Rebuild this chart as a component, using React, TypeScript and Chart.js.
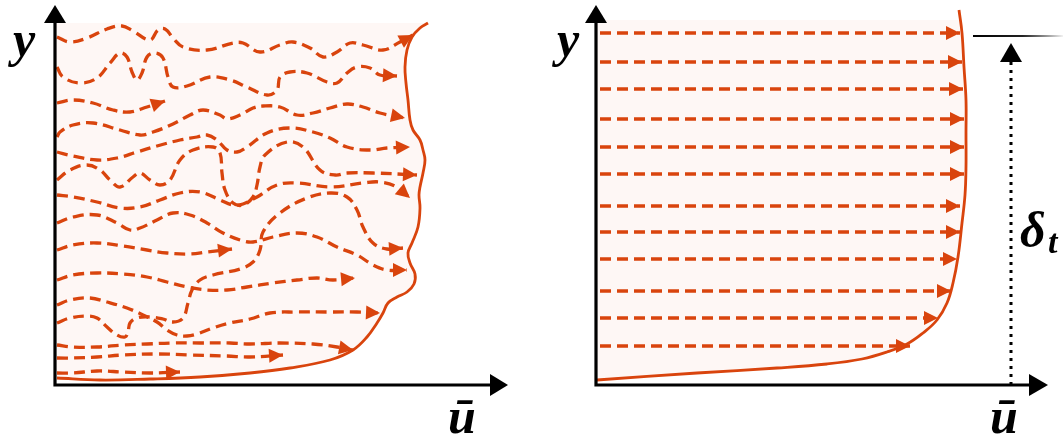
import React, { useEffect, useRef } from 'react';
import { Chart, registerables } from 'chart.js';

Chart.register(...registerables);

const ORANGE = '#d9440d';
const PINK = '#fef7f5';
const INK = '#000000';

// ---------------- Left panel: turbulent flow (u, y) ----------------
const turbProfile: number[][] = [
  [2, 7], [45, 5], [95, 6], [145, 8], [195, 12], [235, 17], [275, 25], [298, 35], [312, 48],
  [322, 62], [328, 72], [333, 82], [342, 88], [352, 93], [359, 101], [360, 111], [355, 122],
  [353, 132], [357, 142], [363, 158], [365, 177], [364, 190], [365, 198], [368, 212], [370, 225],
  [368, 235], [365, 245], [358, 255], [355, 265], [353, 285], [351, 302], [350, 318], [352, 335],
  [357, 348], [365, 357], [373, 362],
];
const streak01: number[][] = [
  [2, 348], [15, 343], [32, 347], [52, 356], [67, 359], [78, 354], [95, 345], [103, 355], [110, 356],
  [118, 347], [128, 338], [152, 335], [178, 342], [188, 342], [205, 333], [225, 340], [238, 343],
  [255, 337], [268, 328], [282, 333], [295, 342], [308, 340], [328, 335], [345, 343], [358, 350],
];
const streak02: number[][] = [
  [2, 318], [8, 308], [25, 302], [42, 307], [55, 322], [65, 332], [72, 328], [77, 313], [82, 305],
  [87, 312], [92, 328], [100, 332], [108, 327], [113, 308], [118, 298], [132, 299], [155, 308],
  [175, 305], [192, 298], [212, 290], [222, 295], [225, 308], [235, 313], [252, 312], [272, 303],
  [282, 302], [292, 312], [302, 318], [315, 317], [325, 310], [342, 309],
];
const streak03: number[][] = [
  [2, 282], [18, 285], [38, 282], [58, 275], [75, 273], [92, 278], [110, 284],
];
const streak04: number[][] = [
  [2, 248], [5, 253], [18, 260], [38, 262], [65, 255], [85, 250], [98, 253], [118, 261], [135, 270],
  [148, 275], [165, 270], [172, 266], [185, 270], [198, 277], [208, 279], [225, 278], [242, 270],
  [258, 272], [275, 277], [292, 281], [308, 278], [325, 272], [350, 267],
];
const streak05: number[][] = [
  [2, 233], [18, 229], [42, 225], [62, 227], [82, 233], [102, 239], [125, 245], [142, 248],
  [152, 250], [162, 245], [172, 235], [182, 233], [192, 238], [212, 252], [235, 257], [258, 253],
  [275, 247], [292, 238], [315, 235], [332, 237], [355, 238],
];
const streak06: number[][] = [
  [2, 205], [15, 215], [32, 220], [45, 215], [55, 205], [65, 198], [78, 208], [85, 212], [95, 205],
  [105, 200], [115, 205], [125, 225], [138, 235], [158, 238], [165, 232], [167, 212], [170, 195],
  [178, 182], [188, 180], [198, 188], [202, 200], [205, 218], [210, 230], [232, 243], [248, 238],
  [265, 215], [280, 210], [292, 212], [318, 212], [362, 210],
];
const streak07: number[][] = [
  [2, 190], [18, 188], [42, 183], [65, 177], [85, 178], [105, 185], [125, 192], [145, 193],
  [165, 185], [178, 180], [188, 181], [202, 188], [222, 200], [242, 202], [275, 198], [308, 202],
  [325, 203], [342, 198], [355, 187],
];
const streak08: number[][] = [
  [2, 162], [18, 168], [42, 170], [62, 162], [75, 155], [85, 157], [102, 165], [118, 172],
  [135, 170], [152, 162], [168, 152], [185, 145], [198, 143], [218, 148], [242, 152], [262, 148],
  [282, 138], [302, 130], [318, 120], [332, 115], [352, 115],
];
const streak09: number[][] = [
  [2, 135], [18, 140], [42, 142], [68, 139], [92, 135], [112, 132], [135, 131], [152, 133], [177, 136],
];
const streak10: number[][] = [
  [2, 105], [18, 110], [42, 112], [68, 111], [92, 108], [112, 103], [132, 98], [152, 95], [172, 95],
  [192, 98], [218, 102], [242, 105], [262, 107], [278, 105], [300, 107],
];
const streak11: number[][] = [
  [2, 80], [15, 85], [35, 87], [52, 83], [72, 77], [88, 70], [102, 63], [112, 55], [122, 50],
  [132, 49], [142, 51], [158, 57], [175, 62], [195, 66], [215, 72], [242, 73], [275, 73], [302, 73],
  [325, 72],
];
const streak12: number[][] = [
  [2, 62], [15, 67], [32, 69], [42, 67], [52, 58], [62, 50], [70, 48], [73, 53], [75, 62], [82, 67],
  [95, 68], [108, 66], [118, 63], [128, 67], [133, 82], [137, 95], [145, 105], [158, 110], [185, 116],
  [198, 123], [205, 135], [208, 153], [225, 172], [252, 187], [275, 192], [292, 188], [302, 175],
  [308, 158], [318, 142], [332, 136], [348, 137],
];
const streak13: number[][] = [
  [2, 40], [18, 38], [42, 38], [68, 40], [92, 41], [118, 42], [145, 42], [175, 42], [195, 41],
  [225, 42], [258, 41], [282, 38], [298, 35],
];
const streak14: number[][] = [
  [2, 27], [18, 27], [42, 28], [68, 30], [102, 31], [135, 30], [172, 29], [195, 28], [228, 30],
];
const streak15: number[][] = [
  [2, 12], [18, 12], [42, 14], [68, 13], [95, 12], [125, 13],
];
const turbStreaks = [
  streak01, streak02, streak03, streak04, streak05, streak06, streak07, streak08,
  streak09, streak10, streak11, streak12, streak13, streak14, streak15,
];

// ---------------- Right panel: mean flow (u, y) ----------------
const lamProfile: number[][] = [
  [1, 5], [101, 12], [181, 17], [231, 21], [266, 26], [291, 33], [311, 41], [327, 52], [341, 65],
  [351, 82], [357, 102], [362, 128], [366, 162], [369, 190], [370, 218], [370, 252], [370, 285],
  [368, 318], [366, 352], [363, 375],
];
const lamRowY = [352, 323, 296, 266, 238, 211, 179, 153, 126, 94, 67, 39];
const lamRowEnd = [364, 366, 367, 368, 368, 368, 364, 364, 361, 355, 342, 314];
const lamRowStart = 4;

// annotation values (data units of the right panel)
const deltaX = 415;
const deltaTopY = 349;
const deltaArrowTip = 342;

const toXY = (arr: number[][]) => arr.map(([x, y]) => ({ x, y }));

function arrowHead(ctx: CanvasRenderingContext2D, tx: number, ty: number, fx: number, fy: number, len: number, half: number, color: string) {
  const a = Math.atan2(ty - fy, tx - fx);
  ctx.save();
  ctx.translate(tx, ty);
  ctx.rotate(a);
  ctx.beginPath();
  ctx.moveTo(0, 0);
  ctx.lineTo(-len, -half);
  ctx.lineTo(-len, half);
  ctx.closePath();
  ctx.fillStyle = color;
  ctx.fill();
  ctx.restore();
}

const schematicPlugin = {
  id: 'schematic',
  beforeDatasetsDraw(chart: any, _args: any, opts: any) {
    const { ctx, chartArea } = chart;
    const xs = chart.scales.x;
    const ys = chart.scales.y;
    chart.data.datasets.forEach((d: any, i: number) => {
      if (!d.profile) return;
      const meta = chart.getDatasetMeta(i);
      if (meta.dataset && meta.dataset.updateControlPoints) meta.dataset.updateControlPoints(chartArea, 'x');
      const pts = meta.data;
      const x0 = xs.getPixelForValue(0);
      const y0 = ys.getPixelForValue(0);
      const top = ys.getPixelForValue(opts.fillTop);
      ctx.save();
      ctx.beginPath();
      ctx.rect(x0, top, chartArea.right - x0, y0 - top);
      ctx.clip();
      ctx.beginPath();
      ctx.moveTo(x0, y0);
      ctx.lineTo(pts[0].x, pts[0].y);
      for (let k = 1; k < pts.length; k++) {
        const p = pts[k - 1];
        const q = pts[k];
        if (p.cp2x !== undefined && q.cp1x !== undefined) ctx.bezierCurveTo(p.cp2x, p.cp2y, q.cp1x, q.cp1y, q.x, q.y);
        else ctx.lineTo(q.x, q.y);
      }
      ctx.lineTo(x0, pts[pts.length - 1].y);
      ctx.closePath();
      ctx.fillStyle = PINK;
      ctx.fill();
      ctx.restore();
    });
  },
  afterDatasetsDraw(chart: any, _args: any, opts: any) {
    const { ctx } = chart;
    const xs = chart.scales.x;
    const ys = chart.scales.y;
    const px = (v: number) => xs.getPixelForValue(v);
    const py = (v: number) => ys.getPixelForValue(v);

    // arrow heads at the end of each streamline
    chart.data.datasets.forEach((d: any, i: number) => {
      if (!d.arrow) return;
      const pts = chart.getDatasetMeta(i).data;
      const n = pts.length;
      arrowHead(ctx, pts[n - 1].x, pts[n - 1].y, pts[n - 2].x, pts[n - 2].y, 14, 7, ORANGE);
    });

    // axes
    const x0 = px(0);
    const y0 = py(0);
    ctx.save();
    ctx.strokeStyle = INK;
    ctx.lineWidth = 3.2;
    ctx.beginPath();
    ctx.moveTo(x0, y0 + 1.6);
    ctx.lineTo(x0, py(opts.yArrowBase));
    ctx.moveTo(x0 - 1.6, y0);
    ctx.lineTo(px(opts.xArrowBase), y0);
    ctx.stroke();
    arrowHead(ctx, x0, py(opts.yArrowTip), x0, y0, py(opts.yArrowBase) - py(opts.yArrowTip), 11, INK);
    arrowHead(ctx, px(opts.xArrowTip), y0, x0, y0, px(opts.xArrowTip) - px(opts.xArrowBase), 11, INK);

    // labels
    ctx.fillStyle = INK;
    ctx.textBaseline = 'alphabetic';
    (opts.labels || []).forEach((l: any) => {
      ctx.font = `italic bold ${l.size}px "Liberation Serif", "DejaVu Serif", serif`;
      ctx.textAlign = l.align;
      ctx.fillText(l.text, px(l.u), py(l.y));
    });

    // boundary-layer thickness annotation
    if (opts.delta) {
      const dx = px(deltaX);
      const lineY = py(deltaTopY);
      const x1 = px(377);
      const x2 = px(467);
      const g = ctx.createLinearGradient(x1, 0, x2, 0);
      g.addColorStop(0, '#000000');
      g.addColorStop(0.55, '#222222');
      g.addColorStop(1, 'rgba(0,0,0,0.05)');
      ctx.strokeStyle = g;
      ctx.lineWidth = 2;
      ctx.beginPath();
      ctx.moveTo(x1, lineY);
      ctx.lineTo(x2, lineY);
      ctx.stroke();

      const base = py(deltaArrowTip) + 19;
      ctx.strokeStyle = INK;
      ctx.lineWidth = 3;
      ctx.setLineDash([3, 5]);
      ctx.beginPath();
      ctx.moveTo(dx, y0);
      ctx.lineTo(dx, base);
      ctx.stroke();
      ctx.setLineDash([]);
      arrowHead(ctx, dx, py(deltaArrowTip), dx, y0, 19, 11, INK);
    }
    ctx.restore();
  },
};

function makeConfig(profile: number[][], lines: number[][][], tension: number, xMax: number, padding: any, schematic: any): any {
  return {
    type: 'line',
    data: {
      datasets: [
        { data: toXY(profile), borderColor: ORANGE, borderWidth: 2.8, tension: 0.4, pointRadius: 0, fill: false, profile: true },
        ...lines.map((s) => ({
          data: toXY(s), borderColor: ORANGE, borderWidth: 3.3, borderDash: [11, 6], tension,
          pointRadius: 0, fill: false, arrow: true,
        })),
      ],
    },
    options: {
      animation: false,
      responsive: false,
      events: [],
      layout: { padding },
      scales: {
        x: { type: 'linear', display: false, min: 0, max: xMax },
        y: { type: 'linear', display: false, min: 0, max: 380 },
      },
      plugins: { legend: { display: false }, tooltip: { enabled: false }, schematic },
    },
    plugins: [schematicPlugin],
  };
}

export default function App() {
  const leftRef = useRef<HTMLCanvasElement>(null);
  const rightRef = useRef<HTMLCanvasElement>(null);

  useEffect(() => {
    const lamLines = lamRowY.map((y, i) => [[lamRowStart, y], [lamRowEnd[i], y]]);
    const left = new Chart(leftRef.current as HTMLCanvasElement, makeConfig(
      turbProfile, turbStreaks, 0.4, 453,
      { left: 55, right: 22, top: 5, bottom: 53 },
      {
        fillTop: 362, yArrowBase: 362, yArrowTip: 380, xArrowBase: 435, xArrowTip: 453,
        labels: [
          { text: 'y', u: -42, y: 329, size: 50, align: 'left' },
          { text: 'ū', u: 407, y: -48, size: 50, align: 'center' },
        ],
      },
    ));
    const right = new Chart(rightRef.current as HTMLCanvasElement, makeConfig(
      lamProfile, lamLines, 0, 452,
      { left: 66, right: 15, top: 5, bottom: 53 },
      {
        fillTop: 365, yArrowBase: 362, yArrowTip: 380, xArrowBase: 433, xArrowTip: 452,
        delta: true,
        labels: [
          { text: 'y', u: -39, y: 329, size: 50, align: 'left' },
          { text: 'ū', u: 408, y: -48, size: 50, align: 'center' },
          { text: 'δ', u: 424, y: 138, size: 50, align: 'left' },
          { text: 't', u: 452, y: 132, size: 34, align: 'left' },
        ],
      },
    ));
    return () => {
      left.destroy();
      right.destroy();
    };
  }, []);

  return (
    <div style={{ position: 'fixed', left: 0, top: 0, width: 1063, height: 438, background: '#ffffff', overflow: 'hidden' }}>
      <canvas ref={leftRef} width={530} height={438} style={{ position: 'absolute', left: 0, top: 0, width: 530, height: 438 }} />
      <canvas ref={rightRef} width={533} height={438} style={{ position: 'absolute', left: 530, top: 0, width: 533, height: 438 }} />
    </div>
  );
}
